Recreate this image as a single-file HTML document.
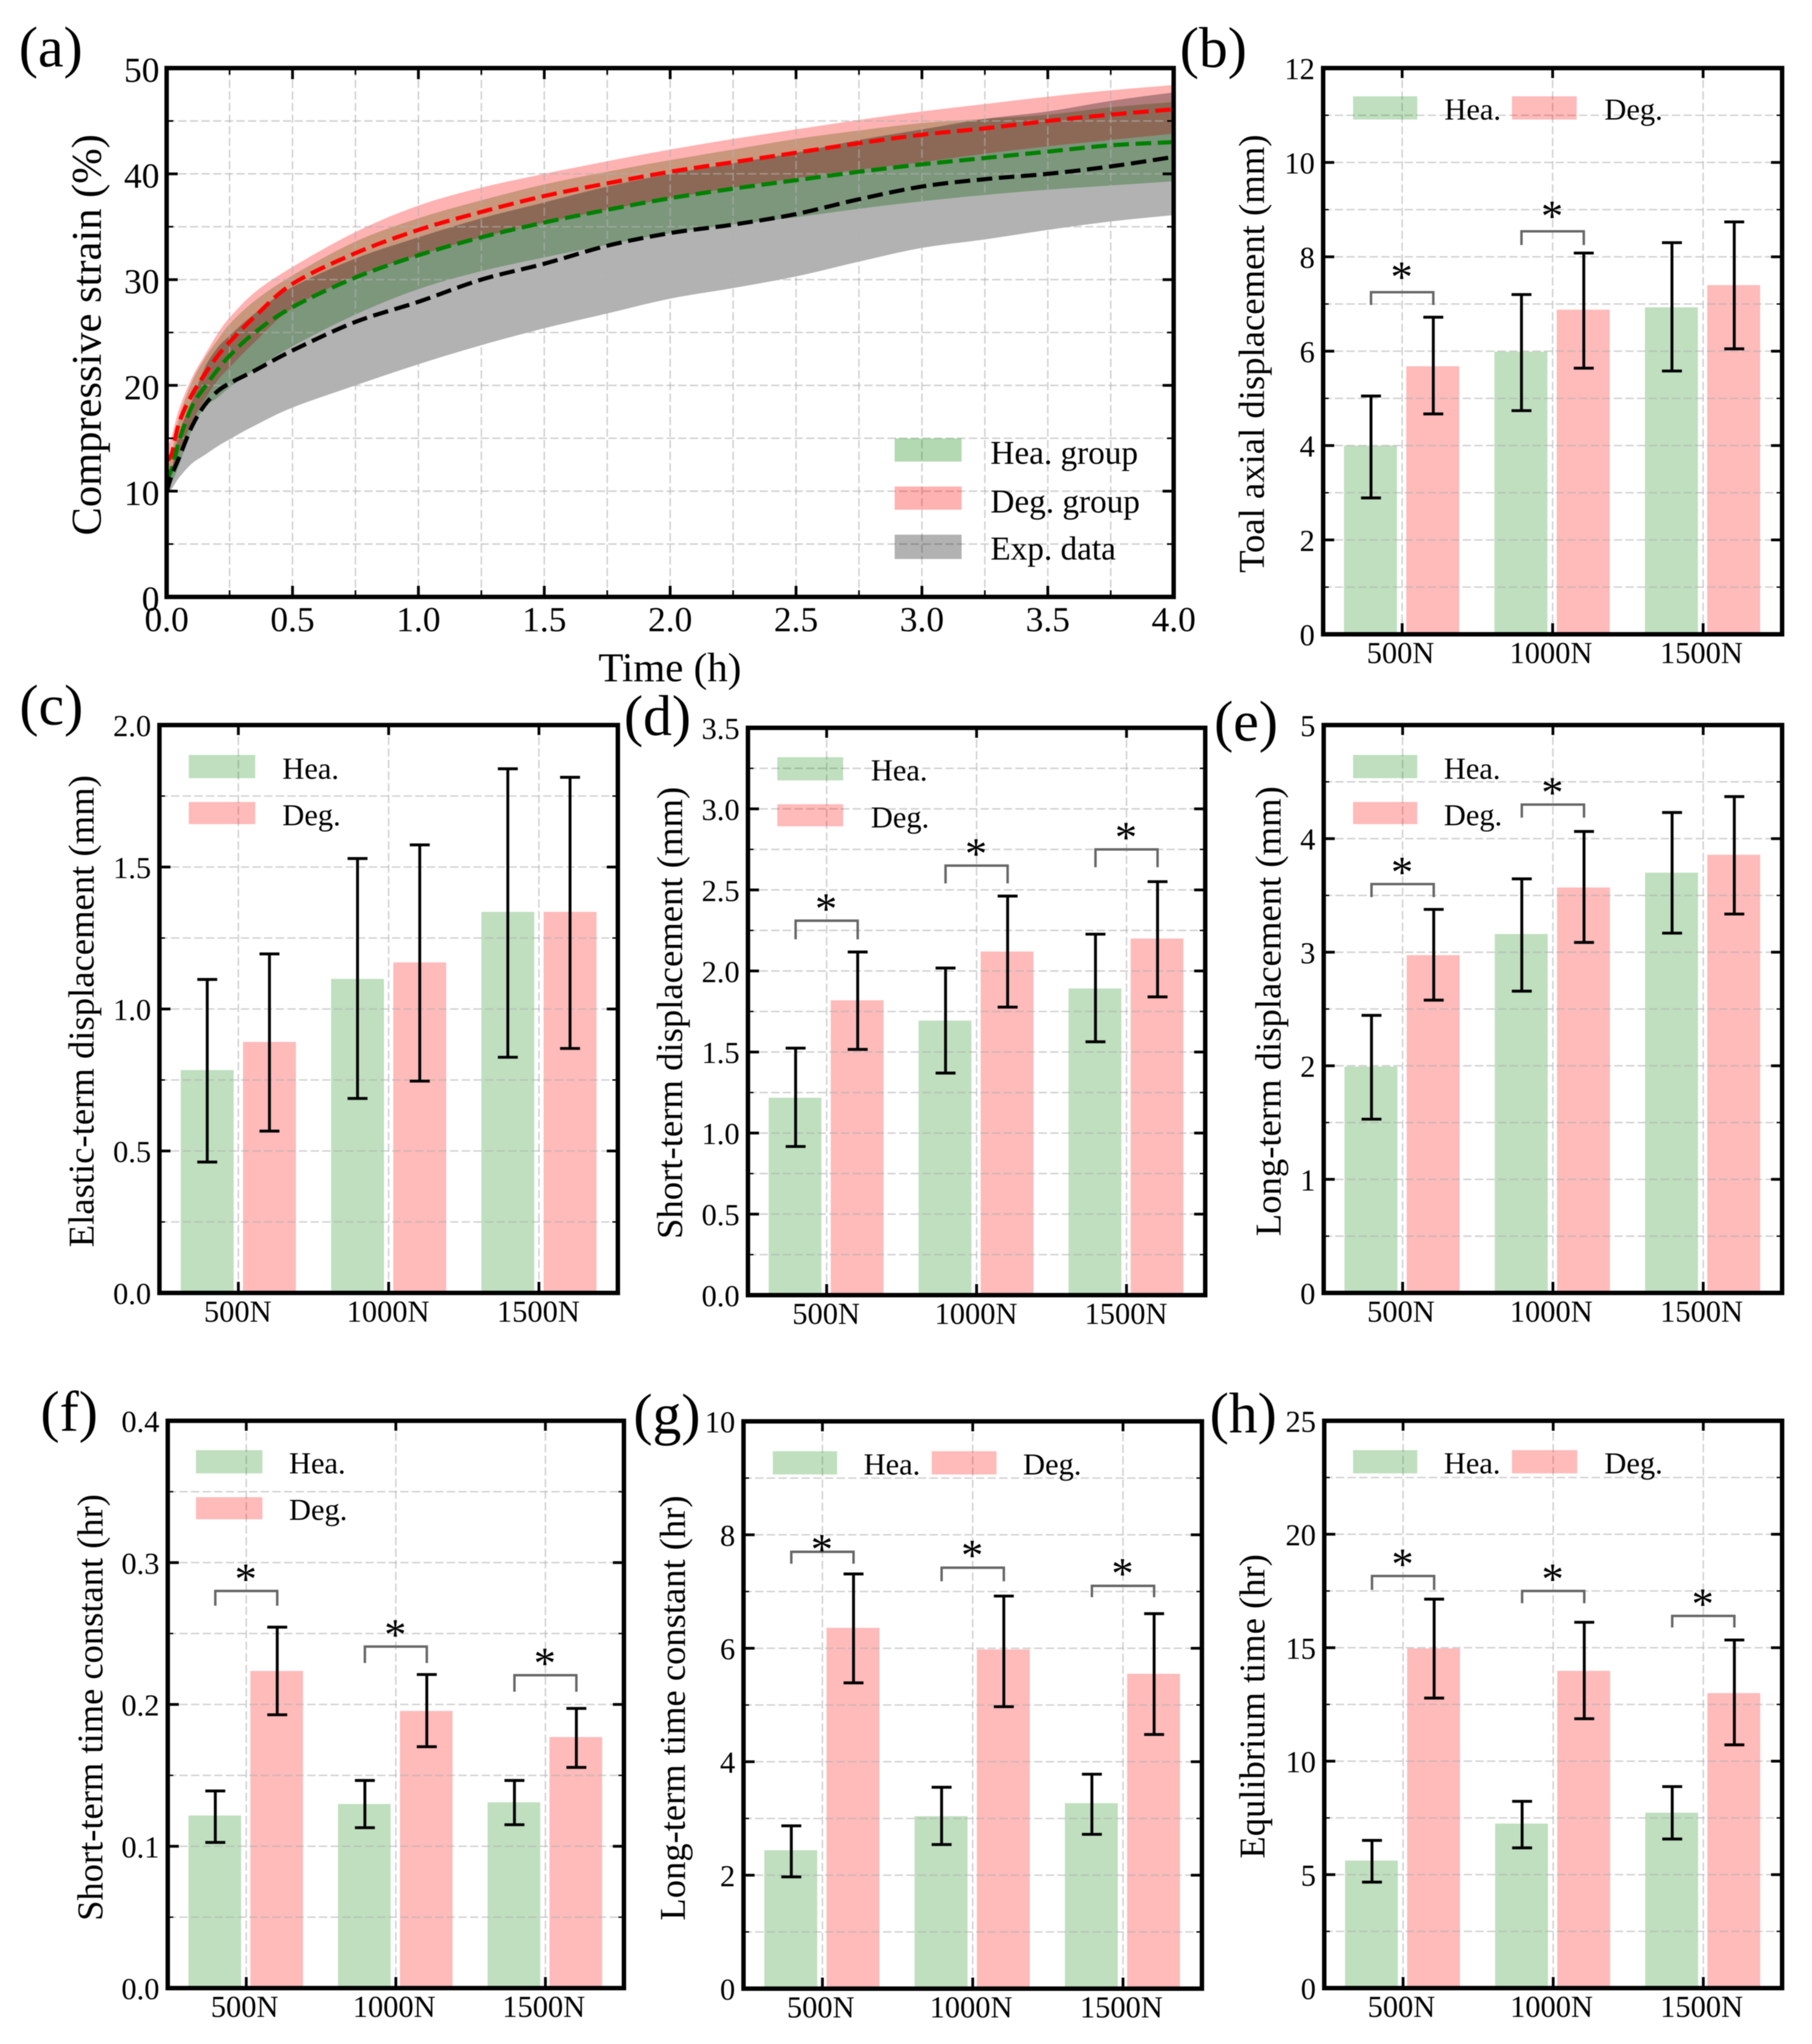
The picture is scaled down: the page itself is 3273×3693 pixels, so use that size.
<!DOCTYPE html>
<html lang="en">
<head>
<meta charset="utf-8">
<title>Displacement and strain comparison</title>
<style>
html,body{margin:0;padding:0;background:#fff;}
svg{display:block;filter:blur(0.9px);}
text{font-family:"Liberation Serif",serif;fill:#000;}
.panel-label{font-size:104px;}
.y-title{font-size:66px;text-anchor:middle;}
.legend-text{font-size:55px;}
.legend-a{font-size:60px;}
</style>
</head>
<body>
<svg id="figure" xmlns="http://www.w3.org/2000/svg" width="3273" height="3693" viewBox="0 0 3273 3693">
<rect x="0" y="0" width="3273" height="3693" fill="#ffffff"/>
<defs>
<clipPath id="clip-a"><rect x="301" y="123" width="1819" height="955.5"/></clipPath>
</defs>
<g id="marks"></g>

<text class="panel-label" x="34" y="120">(a)</text>
<text class="panel-label" x="2131" y="121">(b)</text>
<text class="panel-label" x="35" y="1309">(c)</text>
<text class="panel-label" x="1127" y="1328">(d)</text>
<text class="panel-label" x="2193" y="1338">(e)</text>
<text class="panel-label" x="73" y="2585">(f)</text>
<text class="panel-label" x="1144" y="2590">(g)</text>
<text class="panel-label" x="2185" y="2588">(h)</text>

<text transform="translate(182 605) rotate(-90)" text-anchor="middle" font-size="76" textLength="725" lengthAdjust="spacingAndGlyphs">Compressive strain (%)</text>
<text x="1210" y="1231" text-anchor="middle" font-size="74">Time (h)</text>
<text class="y-title" transform="translate(2283 639) rotate(-90)" textLength="792" lengthAdjust="spacingAndGlyphs">Toal axial displacement (mm)</text>
<text class="y-title" transform="translate(169 1827) rotate(-90)" textLength="853" lengthAdjust="spacingAndGlyphs">Elastic-term displacement (mm)</text>
<text class="y-title" transform="translate(1232 1830) rotate(-90)" textLength="817" lengthAdjust="spacingAndGlyphs">Short-term displacement (mm)</text>
<text class="y-title" transform="translate(2313 1827) rotate(-90)" textLength="813" lengthAdjust="spacingAndGlyphs">Long-term displacement (mm)</text>
<text class="y-title" transform="translate(185 3085) rotate(-90)" textLength="771" lengthAdjust="spacingAndGlyphs">Short-term time constant (hr)</text>
<text class="y-title" transform="translate(1237 3086) rotate(-90)" textLength="768" lengthAdjust="spacingAndGlyphs">Long-term time constant (hr)</text>
<text class="y-title" transform="translate(2284 3083) rotate(-90)" textLength="550" lengthAdjust="spacingAndGlyphs">Equlibrium time (hr)</text>

<g>
<rect x="1616" y="792" width="121" height="42" fill="#008000" fill-opacity="0.3"/>
<text class="legend-a" x="1789" y="838">Hea. group</text>
<rect x="1616" y="879" width="121" height="42" fill="#ff0000" fill-opacity="0.3"/>
<text class="legend-a" x="1789" y="926">Deg. group</text>
<rect x="1616" y="966" width="121" height="44" fill="#000000" fill-opacity="0.3"/>
<text class="legend-a" x="1789" y="1011">Exp. data</text>
</g>

<g>
<rect x="2444" y="174" width="116" height="42" fill="#008000" fill-opacity="0.25"/>
<text class="legend-text" x="2609" y="216">Hea.</text>
<rect x="2731" y="174" width="117" height="42" fill="#ff0000" fill-opacity="0.27"/>
<text class="legend-text" x="2898" y="216">Deg.</text>
</g>
<g>
<rect x="341" y="1364" width="120" height="42" fill="#008000" fill-opacity="0.25"/>
<text class="legend-text" x="510" y="1407">Hea.</text>
<rect x="341" y="1449" width="120" height="40" fill="#ff0000" fill-opacity="0.27"/>
<text class="legend-text" x="510" y="1491">Deg.</text>
</g>
<g>
<rect x="1404" y="1368" width="119" height="42" fill="#008000" fill-opacity="0.25"/>
<text class="legend-text" x="1573" y="1410">Hea.</text>
<rect x="1404" y="1453" width="119" height="40" fill="#ff0000" fill-opacity="0.27"/>
<text class="legend-text" x="1573" y="1495">Deg.</text>
</g>
<g>
<rect x="2444" y="1364" width="116" height="42" fill="#008000" fill-opacity="0.25"/>
<text class="legend-text" x="2608" y="1407">Hea.</text>
<rect x="2444" y="1449" width="116" height="40" fill="#ff0000" fill-opacity="0.27"/>
<text class="legend-text" x="2608" y="1491">Deg.</text>
</g>
<g>
<rect x="354" y="2620" width="120" height="42" fill="#008000" fill-opacity="0.25"/>
<text class="legend-text" x="522" y="2662">Hea.</text>
<rect x="354" y="2705" width="120" height="40" fill="#ff0000" fill-opacity="0.27"/>
<text class="legend-text" x="522" y="2746">Deg.</text>
</g>
<g>
<rect x="1396" y="2622" width="116" height="42" fill="#008000" fill-opacity="0.25"/>
<text class="legend-text" x="1560" y="2664">Hea.</text>
<rect x="1683" y="2622" width="117" height="42" fill="#ff0000" fill-opacity="0.27"/>
<text class="legend-text" x="1848" y="2664">Deg.</text>
</g>
<g>
<rect x="2444" y="2620" width="116" height="42" fill="#008000" fill-opacity="0.25"/>
<text class="legend-text" x="2608" y="2662">Hea.</text>
<rect x="2731" y="2620" width="118" height="42" fill="#ff0000" fill-opacity="0.27"/>
<text class="legend-text" x="2898" y="2662">Deg.</text>
</g>
</svg>

<script>
// ---------- Panel (a): strain curves ----------
const timeHours = [0,0.02,0.05,0.1,0.15,0.2,0.25,0.35,0.5,0.75,1,1.25,1.5,1.75,2,2.25,2.5,2.75,3,3.25,3.5,3.75,4];
const heaMean  = [11,12.1,14.8,18,19.8,21.4,22.8,25,27.4,30.2,32.3,34,35.4,36.6,37.7,38.6,39.4,40.2,40.9,41.5,42.1,42.7,43];
const heaUpper = [12,13.5,17,20.3,22.5,24.2,25.8,28,30.4,33.6,35.8,37.5,39,40.2,41.3,42.3,43.3,44.1,44.8,45.2,45.6,46.3,46.8];
const heaLower = [10.3,10.8,12.5,15.8,17.9,18.8,19.8,21.5,23.7,26.7,29.1,30.8,32.1,33.3,34.4,35.2,35.9,36.7,37.4,38,38.5,38.9,39.3];
const degMean  = [12.9,13.5,16.5,19.1,21,22.7,24.1,26.5,29.6,32.5,34.7,36.4,37.9,39.1,40.2,41.1,42,42.9,43.7,44.3,45,45.6,46.1];
const degUpper = [14,15.2,17.8,20.7,22.8,24.8,26.4,28.8,31.2,34.5,37,38.7,40,41.2,42.3,43.3,44.2,45.1,45.9,46.6,47.3,47.9,48.4];
const degLower = [11.5,12,13.6,16.5,18.6,20.4,21.7,24.1,27.3,30.3,32.3,34,35.4,36.6,37.7,38.7,39.6,40.4,41.1,41.9,42.6,43.2,43.8];
const expMean  = [9.9,11.5,13.2,16.1,18.1,19.4,20.2,21.4,23.3,26,27.9,30,31.5,33.2,34.4,35.2,36.2,37.6,38.8,39.5,40,40.7,41.6];
const expUpper = [10.2,12,15.5,18.5,21.6,23.5,24.7,26.8,29.3,32,34,35.8,37.3,38.8,40,41,42,43.2,44.2,45.2,45.9,46.9,47.7];
const expLower = [9.6,10.2,11.3,12.6,13.4,14.2,14.9,16.2,17.9,20,22,23.8,25.4,26.8,28.2,29.2,30.3,31.7,33,33.8,34.7,35.5,36.1];
const timeTickLabels = ['0.0','0.5','1.0','1.5','2.0','2.5','3.0','3.5','4.0'];
const strainTickLabels = ['0','10','20','30','40','50'];

// ---------- Bar panels ----------
const categories = ['500N','1000N','1500N'];

const totalHea = [4.0,5.99,6.93];
const totalDeg = [5.68,6.88,7.40];
const totalHeaHigh = [5.05,7.2,8.3];
const totalHeaLow = [2.89,4.74,5.58];
const totalDegHigh = [6.72,8.08,8.74];
const totalDegLow = [4.67,5.64,6.05];
const totalSigTop = [7.25,8.54,null];
const totalSigFoot = [6.98,8.25,null];
const totalTicks = ['0','2','4','6','8','10','12'];

const elasticHea = [0.785,1.106,1.342];
const elasticDeg = [0.884,1.164,1.342];
const elasticHeaHigh = [1.104,1.53,1.846];
const elasticHeaLow = [0.461,0.685,0.83];
const elasticDegHigh = [1.194,1.578,1.816];
const elasticDegLow = [0.57,0.746,0.861];
const elasticSigTop = [null,null,null];
const elasticSigFoot = [null,null,null];
const elasticTicks = ['0.0','0.5','1.0','1.5','2.0'];

const shortHea = [1.218,1.694,1.892];
const shortDeg = [1.819,2.12,2.2];
const shortHeaHigh = [1.524,2.018,2.227];
const shortHeaLow = [0.917,1.37,1.563];
const shortDegHigh = [2.117,2.462,2.551];
const shortDegLow = [1.516,1.777,1.84];
const shortSigTop = [2.31,2.65,2.75];
const shortSigFoot = [2.195,2.54,2.64];
const shortTicks = ['0.0','0.5','1.0','1.5','2.0','2.5','3.0','3.5'];

const longHea = [1.993,3.16,3.70];
const longDeg = [2.974,3.57,3.858];
const longHeaHigh = [2.444,3.646,4.23];
const longHeaLow = [1.53,2.657,3.168];
const longDegHigh = [3.377,4.063,4.37];
const longDegLow = [2.578,3.086,3.336];
const longSigTop = [3.60,4.30,null];
const longSigFoot = [3.485,4.185,null];
const longTicks = ['0','1','2','3','4','5'];

const tauShortHea = [0.1217,0.1298,0.131];
const tauShortDeg = [0.2236,0.1954,0.177];
const tauShortHeaHigh = [0.139,0.1464,0.1464];
const tauShortHeaLow = [0.1027,0.1131,0.1152];
const tauShortDegHigh = [0.2545,0.2211,0.1972];
const tauShortDegLow = [0.1927,0.1702,0.1556];
const tauShortSigTop = [0.28,0.2408,0.2206];
const tauShortSigFoot = [0.2696,0.2292,0.209];
const tauShortTicks = ['0.0','0.1','0.2','0.3','0.4'];

const tauLongHea = [2.44,3.04,3.27];
const tauLongDeg = [6.36,5.98,5.55];
const tauLongHeaHigh = [2.87,3.55,3.78];
const tauLongHeaLow = [1.97,2.54,2.72];
const tauLongDegHigh = [7.31,6.92,6.61];
const tauLongDegLow = [5.39,4.97,4.48];
const tauLongSigTop = [7.70,7.42,7.10];
const tauLongSigFoot = [7.49,7.18,6.90];
const tauLongTicks = ['0','2','4','6','8','10'];

const equilHea = [5.62,7.25,7.73];
const equilDeg = [14.97,13.98,13.0];
const equilHeaHigh = [6.51,8.23,8.88];
const equilHeaLow = [4.67,6.18,6.57];
const equilDegHigh = [17.14,16.12,15.34];
const equilDegLow = [12.78,11.87,10.72];
const equilSigTop = [18.16,17.5,16.4];
const equilSigFoot = [17.55,16.96,15.89];
const equilTicks = ['0','5','10','15','20','25'];

// ---------- Drawing ----------
const NS = 'http://www.w3.org/2000/svg';
const root = document.getElementById('marks');
const GRID = '#b0b0b0';

function make(tag, attrs, parent) {
  const n = document.createElementNS(NS, tag);
  for (const k in attrs) n.setAttribute(k, attrs[k]);
  parent.appendChild(n);
  return n;
}

function gridLine(g, x1, y1, x2, y2, name) {
  const l = make('line', {x1, y1, x2, y2, stroke: GRID, 'stroke-opacity': 0.6, 'stroke-width': 2.6, 'stroke-dasharray': '15 6'}, g);
  
  
}

function tickLine(g, x1, y1, x2, y2, w, name) {
  const l = make('line', {x1, y1, x2, y2, stroke: '#000', 'stroke-width': w}, g);
  
  
}

function drawFrame(g, f, name) {
  const r = make('rect', {x: f.left, y: f.top, width: f.right - f.left, height: f.bottom - f.top, fill: 'none', stroke: '#000', 'stroke-width': 8}, g);
  
  
}

function yTickLabel(g, x, y, str, size, name) {
  const t = make('text', {x, y, 'text-anchor': 'end', 'font-size': size}, g);
  t.textContent = str;
  
  
}

function xTickLabel(g, x, y, str, size, name) {
  const t = make('text', {x, y, 'text-anchor': 'middle', 'font-size': size}, g);
  t.textContent = str;
  
  
}

// Catmull-Rom segments through screen points, returned as cubic commands
function smoothSegments(p) {
  let d = '';
  for (let i = 0; i < p.length - 1; i++) {
    const a = p[Math.max(i - 1, 0)], b = p[i], c = p[i + 1], e = p[Math.min(i + 2, p.length - 1)];
    const c1x = b[0] + (c[0] - a[0]) / 6, c1y = b[1] + (c[1] - a[1]) / 6;
    const c2x = c[0] - (e[0] - b[0]) / 6, c2y = c[1] - (e[1] - b[1]) / 6;
    d += 'C' + c1x.toFixed(1) + ' ' + c1y.toFixed(1) + ' ' + c2x.toFixed(1) + ' ' + c2y.toFixed(1) + ' ' + c[0].toFixed(1) + ' ' + c[1].toFixed(1);
  }
  return d;
}

function drawBand(g, sx, sy, upper, lower, color, name) {
  const up = timeHours.map((t, i) => [sx(t), sy(upper[i])]);
  const lo = timeHours.map((t, i) => [sx(t), sy(lower[i])]).reverse();
  const d = 'M' + up[0][0].toFixed(1) + ' ' + up[0][1].toFixed(1) + smoothSegments(up) + 'L' + lo[0][0].toFixed(1) + ' ' + lo[0][1].toFixed(1) + smoothSegments(lo) + 'Z';
  const p = make('path', {d, fill: color, 'fill-opacity': 0.3, 'clip-path': 'url(#clip-a)'}, g);
  
  
}

function drawCurve(g, sx, sy, values, color, name) {
  const pts = timeHours.map((t, i) => [sx(t), sy(values[i])]);
  const d = 'M' + pts[0][0].toFixed(1) + ' ' + pts[0][1].toFixed(1) + smoothSegments(pts);
  const p = make('path', {d, fill: 'none', stroke: color, 'stroke-width': 7.4, 'stroke-dasharray': '28 12', 'clip-path': 'url(#clip-a)'}, g);
  
  
}

function drawPanelA() {
  const f = {left: 301, right: 2120, top: 123, bottom: 1078.5};
  const g = make('g', {}, root);
  
  
  const xMax = Number(timeTickLabels[timeTickLabels.length - 1]);
  const yMax = Number(strainTickLabels[strainTickLabels.length - 1]);
  const sx = t => f.left + t / xMax * (f.right - f.left);
  const sy = v => f.bottom - v / yMax * (f.bottom - f.top);

  drawBand(g, sx, sy, heaUpper, heaLower, '#008000', 'hea-group-band');
  drawBand(g, sx, sy, degUpper, degLower, '#ff0000', 'deg-group-band');
  drawBand(g, sx, sy, expUpper, expLower, '#000000', 'exp-data-band');

  for (let i = 0; i <= 2 * xMax * 2; i++) {
    const t = i * 0.25, x = sx(t);
    if (i > 0 && i < 4 * xMax) gridLine(g, x, f.top, x, f.bottom, 'x-grid-line');
    const len = i % 2 === 0 ? 20 : 12, w = i % 2 === 0 ? 5 : 3;
    tickLine(g, x, f.bottom, x, f.bottom - len, w, 'x-tick');
    tickLine(g, x, f.top, x, f.top + len, w, 'x-tick-top');
  }
  for (let i = 0; i <= yMax / 5; i++) {
    const v = i * 5, y = sy(v);
    if (i > 0 && v < yMax) gridLine(g, f.left, y, f.right, y, 'y-grid-line');
    const len = i % 2 === 0 ? 20 : 12, w = i % 2 === 0 ? 5 : 3;
    tickLine(g, f.left, y, f.left + len, y, w, 'y-tick');
    tickLine(g, f.right, y, f.right - len, y, w, 'y-tick-right');
  }
  drawCurve(g, sx, sy, degMean, '#ff0000', 'deg-group-line');
  drawCurve(g, sx, sy, heaMean, '#008000', 'hea-group-line');
  drawCurve(g, sx, sy, expMean, '#000000', 'exp-data-line');
  drawFrame(g, f, 'plot-frame-a');
  timeTickLabels.forEach(s => xTickLabel(g, sx(Number(s)), f.bottom + 62, s, 64, 'x-tick-label'));
  strainTickLabels.forEach(s => yTickLabel(g, f.left - 13, sy(Number(s)) + 25, s, 64, 'y-tick-label'));
}

function drawBarPanel(c) {
  const f = c.frame;
  const g = make('g', {}, root);
  
  
  const xMin = -0.525, xMax = 2.525, off = 0.207, barW = 0.352;
  const sx = v => f.left + (v - xMin) / (xMax - xMin) * (f.right - f.left);
  const yMax = Number(c.ticks[c.ticks.length - 1]);
  const sy = v => f.bottom - v / yMax * (f.bottom - f.top);
  const barShift = c.id === 'c' ? 0 : -1;
  const labelShift = c.id === 'c' ? -1 : (c.id === 'd' ? -1 : -3);

  categories.forEach((cat, i) => {
    [[c.hea, c.heaHigh, c.heaLow, -off, '#008000', 0.25, 'hea'], [c.deg, c.degHigh, c.degLow, off, '#ff0000', 0.27, 'deg']].forEach(s => {
      const x0 = sx(i + s[3] - barW / 2) + barShift, x1 = sx(i + s[3] + barW / 2) + barShift;
      const bar = make('rect', {x: x0, y: sy(s[0][i]), width: x1 - x0, height: f.bottom - sy(s[0][i]), fill: s[4], 'fill-opacity': s[5]}, g);
      
      
    });
  });

  const major = c.ticks.map(Number);
  const step = major[1] - major[0];
  for (let i = 0; i < major.length * 2 - 1; i++) {
    const v = i * step / 2, y = sy(v);
    if (i > 0 && i < (major.length - 1) * 2) gridLine(g, f.left, y, f.right, y, 'y-grid-line');
    const len = i % 2 === 0 ? 20 : 10, w = i % 2 === 0 ? 5 : 2.5;
    tickLine(g, f.left, y, f.left + len, y, w, 'y-tick');
    tickLine(g, f.right, y, f.right - len, y, w, 'y-tick-right');
  }
  categories.forEach((cat, i) => {
    const x = sx(i);
    gridLine(g, x, f.top, x, f.bottom, 'x-grid-line');
    tickLine(g, x, f.bottom, x, f.bottom - 20, 5, 'x-tick');
    tickLine(g, x, f.top, x, f.top + 18, 5, 'x-tick-top');
  });

  categories.forEach((cat, i) => {
    [[c.heaHigh, c.heaLow, -off, 'hea'], [c.degHigh, c.degLow, off, 'deg']].forEach(s => {
      const x = sx(i + s[2]), yt = sy(s[0][i]), yb = sy(s[1][i]);
      const d = 'M' + x + ' ' + yt + 'L' + x + ' ' + yb + 'M' + (x - 18) + ' ' + yt + 'L' + (x + 18) + ' ' + yt + 'M' + (x - 18) + ' ' + yb + 'L' + (x + 18) + ' ' + yb;
      const e = make('path', {d, fill: 'none', stroke: '#000', 'stroke-width': 5.2}, g);
      
      
    });
    if (c.sigTop[i] !== null) {
      const xa = sx(i - off), xb = sx(i + off), yt = sy(c.sigTop[i]), yf = sy(c.sigFoot[i]);
      const b = make('polyline', {points: xa + ',' + yf + ' ' + xa + ',' + yt + ' ' + xb + ',' + yt + ' ' + xb + ',' + yf, fill: 'none', stroke: '#666', 'stroke-width': 4.4}, g);
      
      
      const lift = c.starLift ? c.starLift[i] : 32;
      const st = make('text', {x: sx(i) - 1, y: yt - lift + 37, 'text-anchor': 'middle', 'font-size': 80}, g);
      st.textContent = '*';
      
      
    }
    xTickLabel(g, sx(i) + labelShift, f.bottom + 52, cat, 55, 'x-tick-label');
  });
  c.ticks.forEach(s => yTickLabel(g, f.left - 15, sy(Number(s)) + 20, s, 55, 'y-tick-label'));
  drawFrame(g, f, 'plot-frame-' + c.id);
}

drawPanelA();
drawBarPanel({id: 'b', frame: {left: 2390, right: 3219, top: 123, bottom: 1146}, hea: totalHea, deg: totalDeg, heaHigh: totalHeaHigh, heaLow: totalHeaLow, degHigh: totalDegHigh, degLow: totalDegLow, sigTop: totalSigTop, sigFoot: totalSigFoot, ticks: totalTicks, starLift: [38, 38, 38]});
drawBarPanel({id: 'c', frame: {left: 288, right: 1116, top: 1310, bottom: 2336}, hea: elasticHea, deg: elasticDeg, heaHigh: elasticHeaHigh, heaLow: elasticHeaLow, degHigh: elasticDegHigh, degLow: elasticDegLow, sigTop: elasticSigTop, sigFoot: elasticSigFoot, ticks: elasticTicks});
drawBarPanel({id: 'd', frame: {left: 1351, right: 2177, top: 1315, bottom: 2340}, hea: shortHea, deg: shortDeg, heaHigh: shortHeaHigh, heaLow: shortHeaLow, degHigh: shortDegHigh, degLow: shortDegLow, sigTop: shortSigTop, sigFoot: shortSigFoot, ticks: shortTicks});
drawBarPanel({id: 'e', frame: {left: 2391, right: 3219, top: 1310, bottom: 2336}, hea: longHea, deg: longDeg, heaHigh: longHeaHigh, heaLow: longHeaLow, degHigh: longDegHigh, degLow: longDegLow, sigTop: longSigTop, sigFoot: longSigFoot, ticks: longTicks});
drawBarPanel({id: 'f', frame: {left: 303, right: 1127, top: 2567, bottom: 3592}, hea: tauShortHea, deg: tauShortDeg, heaHigh: tauShortHeaHigh, heaLow: tauShortHeaLow, degHigh: tauShortDegHigh, degLow: tauShortDegLow, sigTop: tauShortSigTop, sigFoot: tauShortSigFoot, ticks: tauShortTicks});
drawBarPanel({id: 'g', frame: {left: 1343, right: 2171, top: 2568, bottom: 3593}, hea: tauLongHea, deg: tauLongDeg, heaHigh: tauLongHeaHigh, heaLow: tauLongHeaLow, degHigh: tauLongDegHigh, degLow: tauLongDegLow, sigTop: tauLongSigTop, sigFoot: tauLongSigFoot, ticks: tauLongTicks, starLift: [15, 33, 33]});
drawBarPanel({id: 'h', frame: {left: 2392, right: 3219, top: 2567, bottom: 3592}, hea: equilHea, deg: equilDeg, heaHigh: equilHeaHigh, heaLow: equilHeaLow, degHigh: equilDegHigh, degLow: equilDegLow, sigTop: equilSigTop, sigFoot: equilSigFoot, ticks: equilTicks});
</script>
</body>
</html>
